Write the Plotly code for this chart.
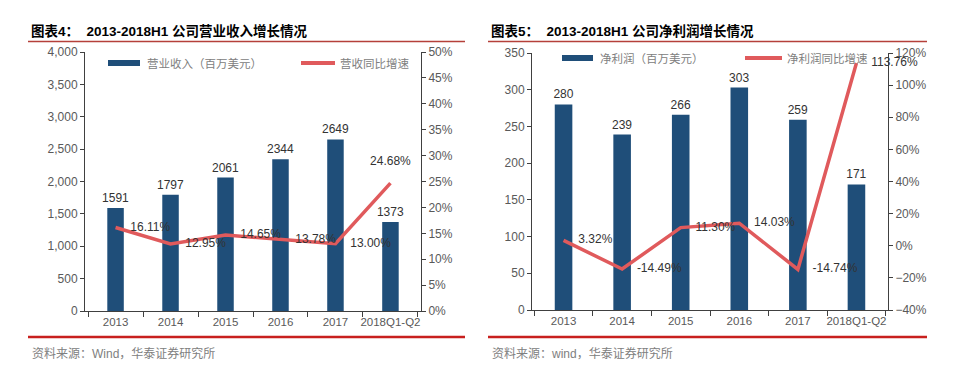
import plotly.graph_objects as go

# ---------------- data ----------------
categories = ["2013", "2014", "2015", "2016", "2017", "2018Q1-Q2"]
revenue = [1591, 1797, 2061, 2344, 2649, 1373]
revenue_growth = [16.11, 12.95, 14.65, 13.78, 13.00, 24.68]
net_profit = [280, 239, 266, 303, 259, 171]
profit_growth = [3.32, -14.49, 11.30, 14.03, -14.74, 113.76]

left_title = "图表4：\u00a0\u00a02013-2018H1 公司营业收入增长情况"
right_title = "图表5：\u00a0\u00a02013-2018H1 公司净利润增长情况"
left_legend = ["营业收入（百万美元）", "营收同比增速"]
right_legend = ["净利润（百万美元）", "净利润同比增速"]
left_source = "资料来源：Wind，华泰证券研究所"
right_source = "资料来源：wind，华泰证券研究所"

# ---------------- style ----------------
W, H = 961, 375
FONT = "Liberation Sans, Arial, Noto Sans CJK SC, sans-serif"
BAR = "#1F4E79"
LINE = "#E05A5C"
AXIS = "#404040"
TICK = "#595959"
LABEL = "#333333"
GREY = "#808080"


def px(x):
    return x / W


def py(y):
    return 1 - y / H


fig = go.Figure()

# left panel
fig.add_trace(go.Bar(
    x=categories, y=revenue, xaxis="x", yaxis="y", width=0.3,
    marker=dict(color=BAR, line=dict(width=0)),
    text=[str(v) for v in revenue], textposition="outside", constraintext="none",
    textfont=dict(size=12, color=LABEL, family=FONT), cliponaxis=False,
    showlegend=False, hoverinfo="skip"))
fig.add_trace(go.Scatter(
    x=categories, y=revenue_growth, xaxis="x", yaxis="y2", mode="lines+markers+text",
    line=dict(color=LINE, width=3.5),
    marker=dict(size=22, color="rgba(0,0,0,0)"),
    text=[f"{v:.2f}%" for v in revenue_growth],
    textposition=["middle right"] * 5 + ["top center"],
    textfont=dict(size=12, color=LABEL, family=FONT), cliponaxis=False,
    showlegend=False, hoverinfo="skip"))

# right panel
fig.add_trace(go.Bar(
    x=categories, y=net_profit, xaxis="x2", yaxis="y3", width=0.3,
    marker=dict(color=BAR, line=dict(width=0)),
    text=[str(v) for v in net_profit], textposition="outside", constraintext="none",
    textfont=dict(size=12, color=LABEL, family=FONT), cliponaxis=False,
    showlegend=False, hoverinfo="skip"))
fig.add_trace(go.Scatter(
    x=categories, y=profit_growth, xaxis="x2", yaxis="y4", mode="lines+markers+text",
    line=dict(color=LINE, width=3.5),
    marker=dict(size=22, color="rgba(0,0,0,0)"),
    text=[f"{v:.2f}%" for v in profit_growth],
    textposition="middle right",
    textfont=dict(size=12, color=LABEL, family=FONT), cliponaxis=False,
    showlegend=False, hoverinfo="skip"))

common_axis = dict(showline=True, linecolor=AXIS, linewidth=1, ticks="outside",
                   tickcolor=AXIS, ticklen=4, showgrid=False, zeroline=False,
                   automargin=False,
                   tickfont=dict(size=12, color=TICK, family=FONT), fixedrange=True)

xcommon = dict(common_axis, type="category", tickson="boundaries", ticklen=5,
               tickangle=0, tickfont=dict(size=11.5, color=TICK, family=FONT))

fig.update_layout(
    template="none",
    width=W, height=H, margin=dict(l=0, r=0, t=0, b=0, pad=0),
    paper_bgcolor="white", plot_bgcolor="white",
    font=dict(family=FONT), bargap=0.7,
    xaxis=dict(xcommon, domain=[px(85), px(421)], anchor="y"),
    yaxis=dict(common_axis, domain=[py(311), py(52)], anchor="x", range=[0, 4000],
               dtick=500, tickformat=","),
    yaxis2=dict(common_axis, overlaying="y", side="right", anchor="x", range=[0, 50],
                dtick=5, ticksuffix="%"),
    xaxis2=dict(xcommon, domain=[px(532), px(888)], anchor="y3"),
    yaxis3=dict(common_axis, domain=[py(310), py(53)], anchor="x2", range=[0, 350],
                dtick=50),
    yaxis4=dict(common_axis, overlaying="y3", side="right", anchor="x2", range=[-40, 120],
                dtick=20, ticksuffix="%"),
)

shapes = []
annotations = []

# titles, rules, sources, legends
for x0, x1, title, source, leg, lx in [
        (28, 465, left_title, left_source, left_legend, (108, 140, 145, 301, 335, 338, 63)),
        (488, 927, right_title, right_source, right_legend, (562, 593, 598, 745, 782, 785, 58))]:
    annotations.append(dict(xref="paper", yref="paper", x=px(x0 + 1), y=py(31),
                            xanchor="left", yanchor="middle", showarrow=False,
                            text="<b>" + title + "</b>",
                            font=dict(size=13.5, color="#000000", family=FONT)))
    shapes.append(dict(type="line", xref="paper", yref="paper", x0=px(x0), x1=px(x1),
                       y0=py(41.5), y1=py(41.5), line=dict(color="#B5403A", width=1.3)))
    shapes.append(dict(type="line", xref="paper", yref="paper", x0=px(x0), x1=px(x1),
                       y0=py(337), y1=py(337), line=dict(color="#C8201E", width=2.5)))
    annotations.append(dict(xref="paper", yref="paper", x=px(x0 + 2), y=py(353),
                            xanchor="left", yanchor="middle", showarrow=False,
                            text=source, font=dict(size=12, color=GREY, family=FONT)))
    bx0, bx1, tx1, rx0, rx1, tx2, ly = lx
    shapes.append(dict(type="rect", xref="paper", yref="paper", x0=px(bx0), x1=px(bx1),
                       y0=py(ly + 3), y1=py(ly - 3), line=dict(width=0), fillcolor=BAR))
    shapes.append(dict(type="line", xref="paper", yref="paper", x0=px(rx0), x1=px(rx1),
                       y0=py(ly), y1=py(ly), line=dict(color=LINE, width=4)))
    annotations.append(dict(xref="paper", yref="paper", x=px(tx1), y=py(ly),
                            xanchor="left", yanchor="middle", showarrow=False,
                            text=leg[0], font=dict(size=11.5, color=GREY, family=FONT)))
    annotations.append(dict(xref="paper", yref="paper", x=px(tx2), y=py(ly),
                            xanchor="left", yanchor="middle", showarrow=False,
                            text=leg[1], font=dict(size=11.5, color=GREY, family=FONT)))

fig.update_layout(shapes=shapes, annotations=annotations)

fig.write_html("out.html", config={"displayModeBar": False},
               post_script="document.body.style.margin='0';document.body.style.overflow='hidden';")
